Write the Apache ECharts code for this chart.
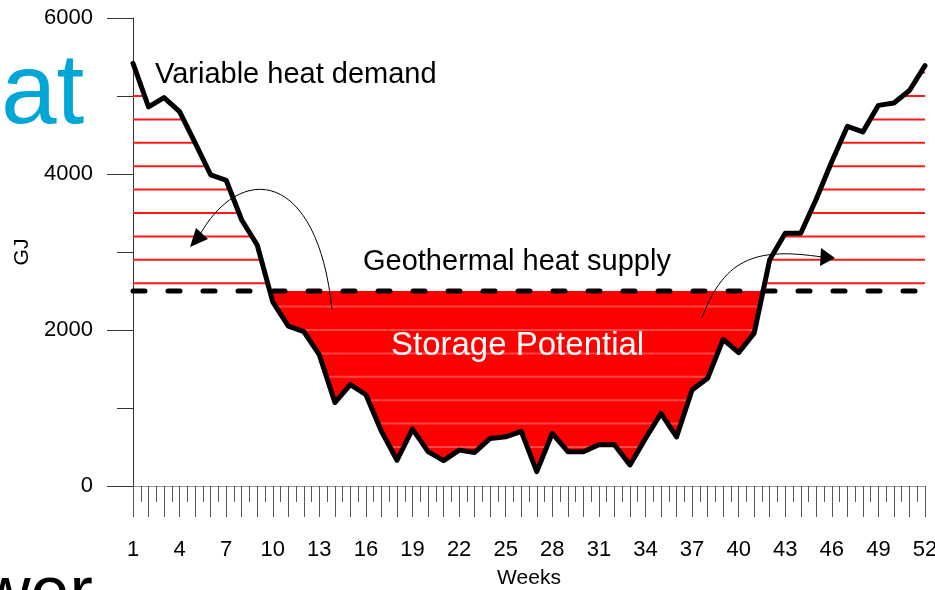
<!DOCTYPE html>
<html>
<head>
<meta charset="utf-8">
<script src="https://cdn.jsdelivr.net/npm/echarts@6/dist/echarts.min.js"></script>
<style>
  html, body { margin: 0; padding: 0; background: #fff; }
  #chart { width: 935px; height: 590px; }
</style>
</head>
<body>
<div id="chart"></div>
<script>
// weekly heat demand (GJ)
var weeks = [];
for (var w = 1; w <= 52; w++) weeks.push(w);
var demand = [
  5420, 4860, 4980, 4800, 4400, 3990, 3920, 3410, 3090, 2360,
  2050, 1980, 1680, 1070, 1300, 1170, 700, 330, 730, 440,
  325, 460, 430, 610, 630, 700, 185, 675, 440, 440,
  530, 530, 270, 610, 930, 630, 1230, 1380, 1880, 1710,
  1960, 2900, 3240, 3240, 3680, 4160, 4610, 4540, 4880, 4910,
  5070, 5390
];
var supply = 2500;           // geothermal heat supply level
var yTicks = [0, 2000, 4000, 6000];
var hatchStep = 300;         // spacing of the hatch lines

var FONT = '"Liberation Sans", Arial, sans-serif';

// points of the demand curve plus the places where it crosses the supply level
var pts = [];
for (var i = 0; i < weeks.length; i++) {
  pts.push([weeks[i], demand[i]]);
  if (i < weeks.length - 1) {
    var a = demand[i] - supply, b = demand[i + 1] - supply;
    if (a * b < 0) {
      var t = a / (a - b);
      pts.push([weeks[i] + t * (weeks[i + 1] - weeks[i]), supply]);
    }
  }
}
// lower edge of the storage area: the curve, capped at the supply level
var deficitEdge = pts.map(function (p) { return [p[0], Math.min(p[1], supply)]; });

// hatch levels: above supply (red lines) and below supply (light stripes)
var hatchLevels = [];
for (var l = supply + 100; l < 6000; l += hatchStep) hatchLevels.push([1, l, 1]);
for (var l2 = supply - 200; l2 > 0; l2 -= hatchStep) hatchLevels.push([1, l2, 0]);

// x ranges where the curve is above (or below) a given level
function spans(level, above) {
  var out = [], cur = null;
  for (var i = 0; i < weeks.length - 1; i++) {
    var x0 = weeks[i], x1 = weeks[i + 1];
    var y0 = demand[i] - level, y1 = demand[i + 1] - level;
    if (!above) { y0 = -y0; y1 = -y1; }
    var s, e;
    if (y0 >= 0 && y1 >= 0) { s = x0; e = x1; }
    else if (y0 < 0 && y1 < 0) { cur = null; continue; }
    else {
      var xc = x0 + y0 / (y0 - y1) * (x1 - x0);
      if (y0 >= 0) { s = x0; e = xc; } else { s = xc; e = x1; }
    }
    if (cur && Math.abs(cur[1] - s) < 1e-9) cur[1] = e;
    else { cur = [s, e]; out.push(cur); }
  }
  return out;
}

var chart = echarts.init(document.getElementById('chart'));

chart.setOption({
  animation: false,
  grid: { left: 133, right: 10, top: 18, bottom: 104, outerBoundsMode: 'none', containLabel: false },
  xAxis: {
    type: 'value',
    min: 1, max: 52, interval: 1,
    name: 'Weeks',
    nameLocation: 'middle',
    nameGap: 82,
    nameTextStyle: { fontFamily: FONT, fontSize: 21, color: '#000' },
    axisLine: { lineStyle: { color: '#999', width: 1 } },
    axisTick: { length: 31, lineStyle: { color: '#555' } },
    minorTick: { show: true, splitNumber: 2, length: 16, lineStyle: { color: '#555' } },
    axisLabel: {
      margin: 53,
      fontFamily: FONT, fontSize: 22, color: '#000',
      formatter: function (v) { return (v - 1) % 3 === 0 ? String(v) : ''; }
    },
    splitLine: { show: false }
  },
  yAxis: {
    type: 'value',
    min: yTicks[0], max: yTicks[yTicks.length - 1], interval: yTicks[1] - yTicks[0],
    name: 'GJ',
    nameLocation: 'middle',
    nameGap: 90,
    nameRotate: 90,
    nameTextStyle: { fontFamily: FONT, fontSize: 21, color: '#000' },
    axisLine: { show: true, lineStyle: { color: '#333', width: 1 } },
    axisTick: { show: true, length: 26, lineStyle: { color: '#333' } },
    minorTick: { show: true, splitNumber: 2, length: 16, lineStyle: { color: '#333' } },
    axisLabel: {
      margin: 40, fontFamily: FONT, fontSize: 22, color: '#000',
      formatter: function (v) { return String(v); }
    },
    splitLine: { show: false }
  },
  series: [
    {
      name: 'Storage Potential', type: 'custom', silent: true,
      data: [[weeks[0], supply]],
      encode: { x: 0, y: 1 },
      renderItem: function (params, api) {
        var poly = deficitEdge.map(function (p) { return api.coord(p); });
        poly.push(api.coord([weeks[weeks.length - 1], supply]));
        poly.push(api.coord([weeks[0], supply]));
        return { type: 'polygon', shape: { points: poly }, style: { fill: '#ff0000' } };
      }
    },
    {
      name: 'hatch', type: 'custom', silent: true,
      data: hatchLevels,
      encode: { x: 0, y: 1 },
      renderItem: function (params, api) {
        var level = api.value(1), above = api.value(2) === 1;
        var children = spans(level, above).map(function (sp) {
          var p0 = api.coord([sp[0], level]), p1 = api.coord([sp[1], level]);
          return {
            type: 'line',
            shape: { x1: p0[0], y1: p0[1], x2: p1[0], y2: p1[1] },
            style: above
              ? { stroke: '#ff1a1a', lineWidth: 2 }
              : { stroke: '#ffffff', lineWidth: 2, opacity: 0.28 }
          };
        });
        return { type: 'group', children: children };
      }
    },
    {
      name: 'Geothermal heat supply', type: 'line',
      data: [[weeks[0], supply], [weeks[weeks.length - 1], supply]],
      showSymbol: false, silent: true,
      lineStyle: { color: '#000', width: 5, type: [12, 23], cap: 'round' }
    },
    {
      name: 'Variable heat demand', type: 'line',
      data: weeks.map(function (w, i) { return [w, demand[i]]; }),
      showSymbol: false, silent: true,
      lineStyle: { color: '#000', width: 5, cap: 'round', join: 'round' }
    }
  ],
  graphic: [
    { type: 'text', silent: true, style: { text: 'at', x: 1, y: 95, fill: '#00a6d6', font: '100px ' + FONT, textAlign: 'left', textVerticalAlign: 'middle' } },
    { type: 'text', silent: true, style: { text: 'wer', x: -20, y: 596, fill: '#000', font: '70px ' + FONT, textAlign: 'left', textVerticalAlign: 'middle' } },
    { type: 'text', silent: true, z: 10, style: { text: 'Variable heat demand', x: 155, y: 75, fill: '#000', font: '29px ' + FONT, textAlign: 'left', textVerticalAlign: 'middle' } },
    { type: 'text', silent: true, z: 10, style: { text: 'Geothermal heat supply', x: 363, y: 262, fill: '#000', font: '29px ' + FONT, textAlign: 'left', textVerticalAlign: 'middle' } },
    { type: 'text', silent: true, z: 10, style: { text: 'Storage Potential', x: 391, y: 346, fill: '#fff', font: '33px ' + FONT, textAlign: 'left', textVerticalAlign: 'middle' } },
    // curved arrows
    { type: 'bezierCurve', silent: true, z: 10,
      shape: { x1: 332, y1: 310, cpx1: 318, cpy1: 170, cpx2: 240, cpy2: 160, x2: 198, y2: 238 },
      style: { stroke: '#000', lineWidth: 1, fill: null } },
    { type: 'polygon', silent: true, z: 10,
      shape: { points: [[190, 247], [196, 228], [208, 239]] },
      style: { fill: '#000' } },
    { type: 'bezierCurve', silent: true, z: 10,
      shape: { x1: 702, y1: 318, cpx1: 725, cpy1: 255, cpx2: 760, cpy2: 248, x2: 822, y2: 257 },
      style: { stroke: '#000', lineWidth: 1, fill: null } },
    { type: 'polygon', silent: true, z: 10,
      shape: { points: [[835, 258], [821, 248], [820, 266]] },
      style: { fill: '#000' } }
  ]
});
</script>
</body>
</html>
